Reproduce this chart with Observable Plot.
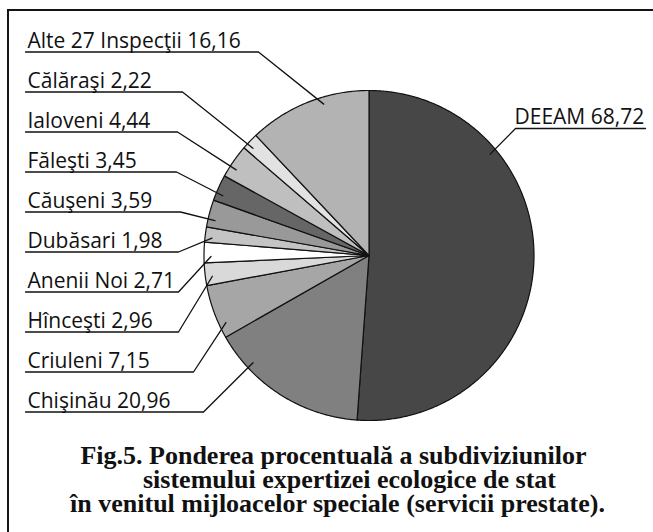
<!DOCTYPE html>
<html><head><meta charset="utf-8">
<script src="https://cdn.jsdelivr.net/npm/d3@7"></script>
<script src="https://cdn.jsdelivr.net/npm/@observablehq/plot@0.6"></script>
<style>
html,body{margin:0;padding:0;background:#fff;}
#wrap{position:relative;width:653px;height:532px;overflow:hidden;background:#fff;}
#frame{position:absolute;left:7px;top:9px;width:800px;height:800px;border:2px solid #141414;box-sizing:border-box;}
#chart{position:absolute;left:0;top:0;}
</style></head>
<body><div id="wrap"><div id="frame"></div><div id="chart"></div></div>
<script>
// ---- data (slice order, clockwise from 12 o'clock) ----
const names = ["DEEAM","Chişinău","Criuleni","Hînceşti","Anenii Noi","Dubăsari","Căuşeni","Făleşti","Ialoveni","Călăraşi","Alte 27 Inspecţii"];
const values = [68.72, 20.96, 7.15, 2.96, 2.71, 1.98, 3.59, 3.45, 4.44, 2.22, 16.16];
const colors = ["#474747","#808080","#a6a6a6","#d9d9d9","#ffffff","#c4c4c4","#999999","#666666","#bfbfbf","#e2e2e2","#b3b3b3"];
const captionLines = [
  "Fig.5. Ponderea procentuală a subdiviziunilor",
  "sistemului expertizei ecologice de stat",
  "în venitul mijloacelor speciale (servicii prestate)."
];

// ---- layout ----
const W = 653, H = 532;
const cx = 368.5, cy = 255, R = 165;
const anchorR = 158;
const leaderShift = [-42, 15, -5, -1, -1.4, -1, -2, -2, -2, -1, 5];
const kneeX = [515, 203, 193, 178, 178, 178, 180, 176, 177, 182, 258];
const rowTop = 51.5, rowGap = 40, textX = 27, lineX0 = 25;
const right = {textX: 514, y: 128, x1: 645};
const captionX = [333, 349, 337], captionY0 = 463, captionGap = 24;

const fmt = v => v.toFixed(2).replace(".", ",");
const deg = Math.PI / 180;
const arcs = d3.pie().sort(null).value(d => d)(values);

const slicePts = [];
arcs.forEach((a, k) => {
  const n = Math.max(2, Math.ceil((a.endAngle - a.startAngle) / deg * 2));
  slicePts.push({k, x: cx, y: cy});
  for (let j = 0; j <= n; j++) {
    const t = a.startAngle + (a.endAngle - a.startAngle) * j / n;
    slicePts.push({k, x: cx + R * Math.sin(t), y: cy - R * Math.cos(t)});
  }
});

const leaderPts = [], labelData = [];
arcs.forEach((a, k) => {
  const m = (a.startAngle + a.endAngle) / 2 + leaderShift[k] * deg;
  const ax = cx + anchorR * Math.sin(m), ay = cy - anchorR * Math.cos(m);
  const label = names[k] + " " + fmt(values[k]);
  if (k === 0) {
    leaderPts.push({k, x: right.x1, y: right.y}, {k, x: kneeX[k], y: right.y}, {k, x: ax, y: ay});
    labelData.push({text: label, x: right.textX, y: right.y - 4.2});
  } else {
    const y = rowTop + rowGap * (values.length - 1 - k);
    leaderPts.push({k, x: lineX0, y}, {k, x: kneeX[k], y}, {k, x: ax, y: ay});
    labelData.push({text: label, x: textX, y: y - 4.2});
  }
});

const chart = Plot.plot({
  width: W, height: H, margin: 0,
  x: {type: "identity", axis: null},
  y: {type: "identity", axis: null},
  color: {domain: names, range: colors},
  style: {background: "transparent", fontFamily: "'Open Sans', sans-serif", overflow: "visible"},
  marks: [
    Plot.line(slicePts, {x: "x", y: "y", z: "k", fill: d => names[d.k], stroke: "#111", strokeWidth: 1.2, curve: "linear-closed", strokeLinejoin: "round"}),
    Plot.line(leaderPts, {x: "x", y: "y", z: "k", stroke: "#111", strokeWidth: 1.3}),
    Plot.text(labelData, {x: "x", y: "y", text: "text", textAnchor: "start", lineAnchor: "bottom", fontSize: 21, fill: "#111"}),
    Plot.text(captionLines, {x: (d, i) => captionX[i], y: (d, i) => captionY0 + i * captionGap, text: d => d, textAnchor: "middle", lineAnchor: "bottom", fontSize: 26, fontWeight: "bold", fontFamily: "'Liberation Serif', serif", fill: "#111"})
  ]
});
document.getElementById("chart").appendChild(chart);
</script>
</body></html>
